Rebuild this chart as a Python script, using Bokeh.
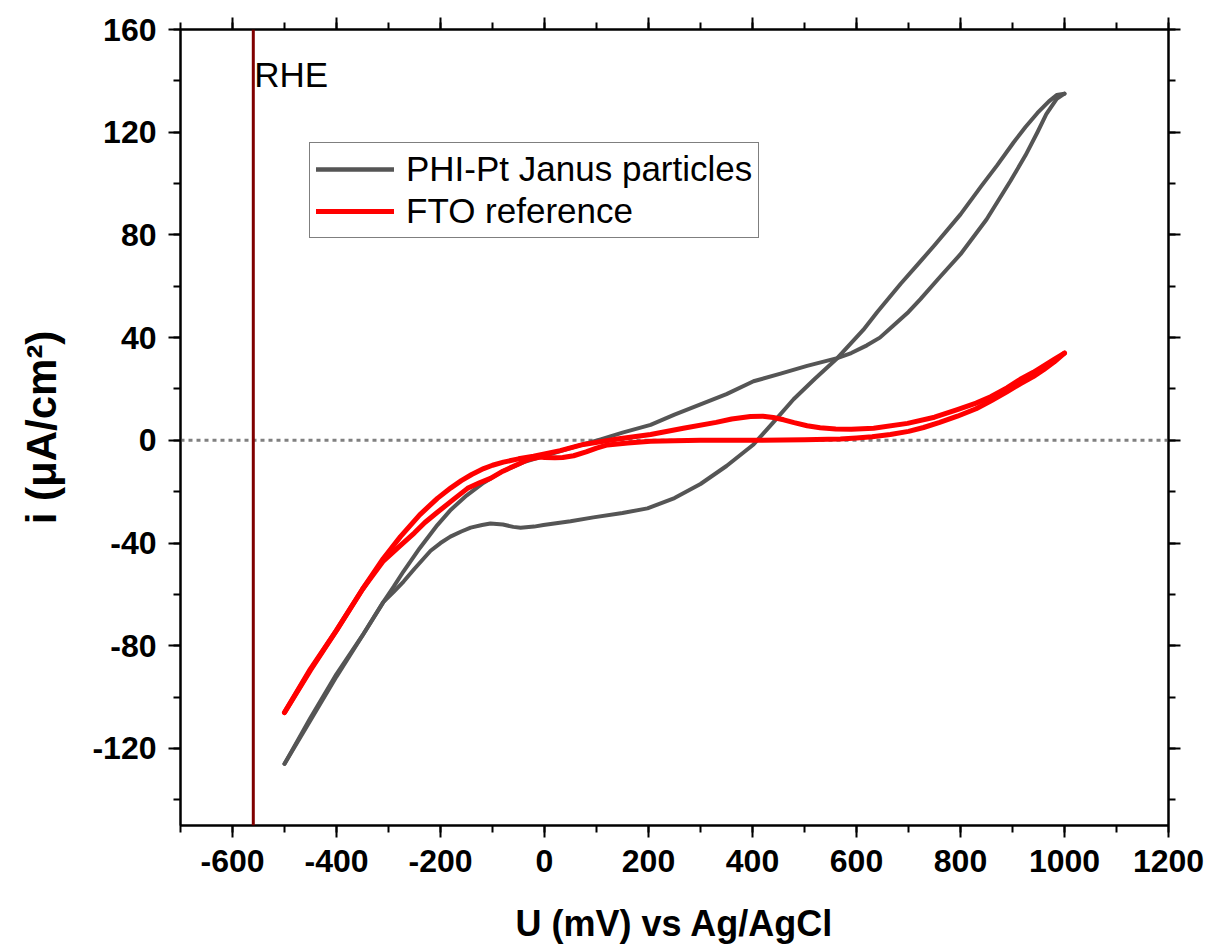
from bokeh.plotting import figure
from bokeh.models import (LinearAxis, SingleIntervalTicker, Span, Label, Legend,
                          LegendItem, Range1d, PrintfTickFormatter, CustomJSTickFormatter)
from bokeh.embed import file_html
from bokeh.resources import INLINE

# ---- data ----
# PHI-Pt Janus particles, branch upper at left / lower at right
phi_fwd_u = [-500, -450, -400, -350, -310, -290, -271, -240, -206, -180, -150, -117, -80, -40, 0,
             50, 108, 150, 204, 250, 300, 350, 402, 454, 505, 563, 590, 620, 645, 670, 700, 723,
             760, 800, 850, 896, 925, 948, 965, 985, 1000]
phi_fwd_i = [-126, -108, -91, -76, -63, -57, -51, -42, -33, -27, -21.5, -16.5, -12, -8.5, -6,
             -3, 0.4, 3, 6, 10, 14, 18, 23, 26, 29, 32, 34, 37, 40, 44.5, 50, 55,
             63.5, 72.5, 86, 101, 111, 120, 127, 133, 135]
# PHI-Pt Janus particles, branch upper at right / lower at left
phi_rev_u = [1000, 985, 970, 948, 925, 902, 870, 840, 800, 750, 720, 685, 640, 613, 563, 520, 479,
             440, 402, 350, 300, 250, 198, 150, 94, 50, -2, -20, -46, -60, -80, -104, -120, -142,
             -160, -181, -200, -219, -250, -271, -290, -310, -350, -400, -450, -500]
phi_rev_i = [135, 134.5, 132, 127.5, 122, 116, 107, 99, 88, 76, 69, 61, 50, 43, 32, 24, 16,
             7, -1.6, -10, -17, -22.5, -26.5, -28.3, -30, -31.5, -33, -33.6, -34, -33.7, -32.8, -32.4,
             -33, -34, -35.5, -37.5, -40, -43, -50, -55, -59, -63, -76, -92, -109, -126]
# FTO reference, branch with bump at ~400 mV
fto_fwd_u = [-500, -450, -400, -350, -310, -277, -240, -206, -180, -160, -140, -117, -100, -79,
             -50, -21, 0, 30, 75, 140, 204, 267, 330, 360, 396, 420, 440, 460, 480, 505, 530, 560,
             590, 633, 698, 750, 794, 830, 858, 890, 915, 940, 960, 980, 1000]
fto_fwd_i = [-106, -89.5, -74, -58, -46, -37.5, -29, -22.6, -18.5, -15.7, -13.3, -11, -9.7, -8.5,
             -7.2, -6.2, -5.3, -4, -1.6, 0.5, 2.3, 4.7, 7, 8.3, 9.3, 9.4, 8.9, 8, 6.9, 5.7, 4.9, 4.4,
             4.3, 4.7, 6.6, 9, 12, 14.5, 17, 20.5, 23.8, 26.5, 29, 31.5, 34]
# FTO reference, flat branch
fto_rev_u = [1000, 980, 960, 940, 915, 890, 858, 830, 794, 760, 729, 700, 665, 630, 600, 569, 500,
             400, 300, 250, 204, 160, 121, 100, 80, 56, 35, 20, 0, -8, -30, -52, -80, -104, -125,
             -148, -175, -206, -230, -250, -280, -310, -350, -400, -450, -500]
fto_rev_i = [34, 30.5, 27.5, 24.8, 22, 19, 15.3, 12.3, 9.4, 7, 5, 3.5, 2.3, 1.4, 0.9, 0.5, 0.2,
             0, 0, -0.2, -0.4, -1, -1.8, -3, -4.5, -6, -6.7, -6.8, -6.7, -6.5, -7.4, -9.4, -12, -14.8,
             -16.5, -18.7, -23, -28, -32, -36, -41.5, -47, -58, -74, -89, -106]

rhe_u = -560
x_ticks_interval = 200
y_ticks_interval = 40

FONT = "Liberation Sans"

p = figure(width=1212, height=949, output_backend="svg", toolbar_location=None,
           x_range=Range1d(-700, 1200), y_range=Range1d(-150, 160),
           x_axis_location=None, y_axis_location=None,
           min_border_left=180, min_border_right=44, min_border_top=29, min_border_bottom=124)
p.xgrid.visible = False
p.ygrid.visible = False
p.outline_line_color = "black"
p.outline_line_width = 2
p.background_fill_color = "white"
p.border_fill_color = "white"


def style_axis(ax, show_labels=True):
    ax.axis_line_width = 2
    ax.axis_line_color = "black"
    ax.major_tick_line_width = 2
    ax.minor_tick_line_width = 2
    ax.major_tick_out = 12
    ax.major_tick_in = 0
    ax.minor_tick_out = 7
    ax.minor_tick_in = 0
    ax.major_tick_line_color = "black"
    ax.minor_tick_line_color = "black"
    if show_labels:
        ax.formatter = PrintfTickFormatter(format="%d")
        ax.major_label_text_font = FONT
        ax.major_label_text_font_style = "bold"
        ax.major_label_text_font_size = "32px"
        ax.major_label_text_color = "black"
        ax.axis_label_text_font = FONT
        ax.axis_label_text_font_style = "bold"
        ax.axis_label_text_color = "black"
    else:
        ax.formatter = CustomJSTickFormatter(code="return ''")
        ax.major_label_standoff = 0


xb = LinearAxis(ticker=SingleIntervalTicker(interval=x_ticks_interval, num_minor_ticks=2),
                axis_label="U (mV) vs Ag/AgCl")
style_axis(xb)
xb.axis_label_text_font_size = "36px"
xb.major_label_standoff = 12
xb.axis_label_standoff = 28
p.add_layout(xb, "below")

yl = LinearAxis(ticker=SingleIntervalTicker(interval=y_ticks_interval, num_minor_ticks=2),
                axis_label="i (μA/cm²)")
style_axis(yl)
yl.axis_label_text_font_size = "42px"
yl.major_label_standoff = 12
yl.axis_label_standoff = 24
p.add_layout(yl, "left")

xt = LinearAxis(ticker=SingleIntervalTicker(interval=x_ticks_interval, num_minor_ticks=2))
style_axis(xt, show_labels=False)
p.add_layout(xt, "above")

yr = LinearAxis(ticker=SingleIntervalTicker(interval=y_ticks_interval, num_minor_ticks=2))
style_axis(yr, show_labels=False)
p.add_layout(yr, "right")

zero = Span(location=0, dimension="width", line_color="#808080", line_dash="4 4",
            line_width=3, level="underlay")
p.add_layout(zero)
rhe = Span(location=rhe_u, dimension="height", line_color="#800000", line_width=3)
p.add_layout(rhe)
p.add_layout(Label(x=rhe_u, y=142.5, x_offset=1, text="RHE", text_font=FONT,
                   text_font_size="35px", text_color="black", text_baseline="alphabetic"))

GRAY = "#555555"
RED = "#ff0000"
g1 = p.line(phi_fwd_u, phi_fwd_i, line_color=GRAY, line_width=4, line_join="round", line_cap="round")
g2 = p.line(phi_rev_u, phi_rev_i, line_color=GRAY, line_width=4, line_join="round", line_cap="round")
r1 = p.line(fto_fwd_u, fto_fwd_i, line_color=RED, line_width=5, line_join="round", line_cap="round")
r2 = p.line(fto_rev_u, fto_rev_i, line_color=RED, line_width=5, line_join="round", line_cap="round")

legend = Legend(items=[LegendItem(label="PHI-Pt Janus particles", renderers=[g1, g2]),
                       LegendItem(label="FTO reference", renderers=[r1, r2])],
                location=(129, 587), orientation="vertical")
legend.label_text_font = FONT
legend.label_text_font_size = "35px"
legend.label_text_color = "black"
legend.glyph_width = 78
legend.glyph_height = 40
legend.label_height = 40
legend.label_standoff = 12
legend.padding = 6
legend.spacing = 2
legend.margin = 0
legend.border_line_color = "black"
legend.border_line_width = 1
legend.background_fill_alpha = 1
p.add_layout(legend, "center")

open("out.html", "w").write(file_html(p, INLINE))
